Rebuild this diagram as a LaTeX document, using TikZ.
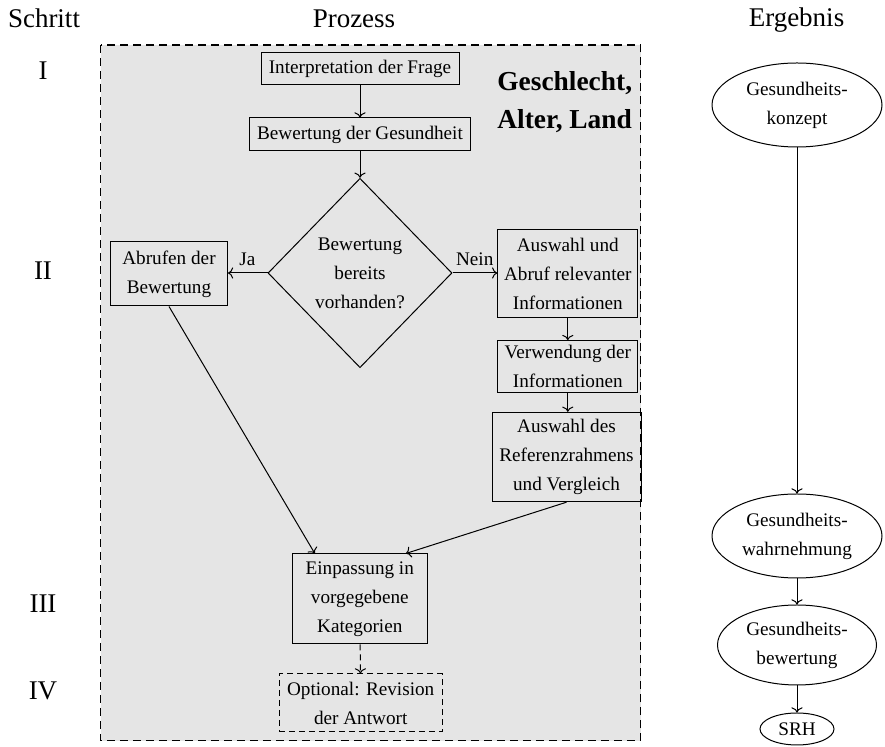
\documentclass[tikz,border=0pt]{standalone}
\usepackage{fontspec}
\setmainfont{Liberation Serif}
\usetikzlibrary{shapes.geometric,arrows.meta}
\begin{document}
\begin{tikzpicture}[x=0.5pt,y=-0.5pt,
  every node/.style={font=\rmfamily\fontsize{9.6}{14.5}\selectfont, align=center, inner sep=0pt},
  box/.style={draw, line width=0.5pt, rectangle},
  dbox/.style={draw, line width=0.5pt, rectangle, dash pattern=on 3pt off 2pt},
  dia/.style={draw, line width=0.5pt, diamond, minimum width=92pt, minimum height=94.7pt},
  ell/.style={draw, line width=0.5pt, ellipse},
  head/.style={font=\rmfamily\fontsize{13.5}{16}\selectfont, anchor=base},
  bigbold/.style={font=\rmfamily\fontsize{13.7}{19.3}\selectfont\bfseries, align=left, anchor=west},
  arr/.style={-{To[length=2.6pt,width=5.6pt]}, line width=0.5pt},
  darr/.style={-{To[length=2.6pt,width=5.6pt]}, line width=0.5pt, dash pattern=on 3pt off 2pt},
]
\useasboundingbox (0,0) rectangle (885,747);
% background
\draw[line width=0.8pt, dash pattern=on 4pt off 2.5pt, fill=black!10] (100.5,45) rectangle (640.5,740.7);

% headings
\node[head] (hs) at (44,28) {Schritt};
\node[head] (hp) at (354,28) {Prozess};
\node[head] (he) at (796.5,27) {Ergebnis};
\node[head] (s1) at (43,80) {I};
\node[head] (s2) at (43,280) {II};
\node[head] (s3) at (43,613) {III};
\node[head] (s4) at (43,700) {IV};

% process
\node[box, minimum width=99pt, minimum height=16pt] (int) at (360,69) {Interpretation der Frage};
\node[box, minimum width=110.5pt, minimum height=16.5pt] (bew) at (360,134.5) {Bewertung der Gesundheit};
\node[bigbold] (gal) at (497,102) {Geschlecht,\\Alter, Land};
\node[dia] (dia) at (360,273) {Bewertung\\bereits\\vorhanden?};
\node[box, minimum width=58.5pt, minimum height=32pt] (abr) at (169,274) {Abrufen der\\Bewertung};
\node[box, minimum width=70pt, minimum height=44pt] (aus) at (567.8,273.5) {Auswahl und\\Abruf relevanter\\Informationen};
\node[box, minimum width=70pt, minimum height=26pt] (ver) at (567.8,366.6) {Verwendung der\\Informationen};
\node[box, minimum width=74.5pt, minimum height=44.7pt] (ref) at (566.5,457) {Auswahl des\\Referenzrahmens\\und Vergleich};
\node[box, minimum width=67.5pt, minimum height=45pt] (ein) at (359.8,599) {Einpassung in\\vorgegebene\\Kategorien};
\node[dbox, minimum width=81.5pt, minimum height=29pt] (opt) at (360.7,703) {Optional: Revision\\der Antwort};
\node (ja) at (247.4,259) {Ja};
\node (nein) at (474.7,259) {Nein};

\draw[arr] (int) -- (bew);
\draw[arr] (bew) -- (dia);
\draw[arr] (dia.west) -- (abr.east |- dia.west);
\draw[arr] (dia.east) -- (aus.west |- dia.east);
\draw[arr] (aus) -- (ver);
\draw[arr] (ver.south) -- (ver.south |- ref.north);
\draw[arr] (abr.south) -- ([xshift=-22.5pt]ein.north);
\draw[arr] (ref.south) -- ([xshift=23pt]ein.north);
\draw[darr] (ein) -- (opt);

% results
\node[ell, minimum width=85pt, minimum height=42pt] (e1) at (797,105) {Gesundheits-\\konzept};
\node[ell, minimum width=85pt, minimum height=42pt] (e2) at (797,536) {Gesundheits-\\wahrnehmung};
\node[ell, minimum width=79.5pt, minimum height=40pt] (e3) at (797,645) {Gesundheits-\\bewertung};
\node[ell, minimum width=37pt, minimum height=16pt] (srh) at (797,729) {SRH};
\draw[arr] (e1) -- (e2);
\draw[arr] (e2) -- (e3);
\draw[arr] (e3) -- (srh);
\end{tikzpicture}
\end{document}
